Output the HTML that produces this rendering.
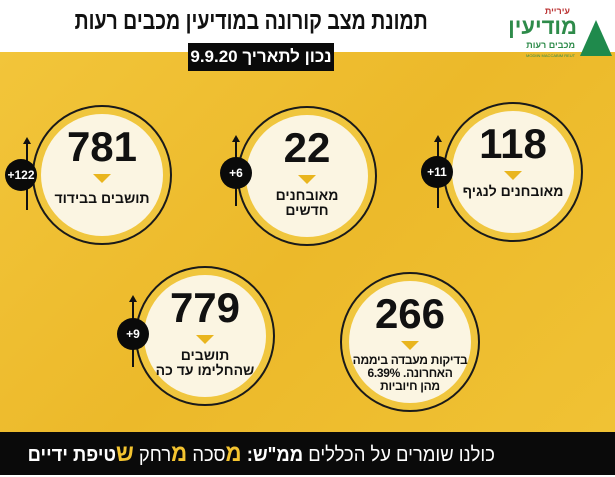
<!DOCTYPE html>
<html><head><meta charset="utf-8"><style>
*{margin:0;padding:0;box-sizing:border-box}
body{width:615px;height:475px;overflow:hidden;position:relative;background:#fff;font-family:"Liberation Sans","Noto Sans CJK SC",sans-serif}
.y{position:absolute;left:0;top:52px;width:615px;height:380px;background:linear-gradient(135deg,#f2c53a,#ecb92a 50%,#f0c234)}
.bar{position:absolute;left:0;top:432px;width:615px;height:43px;background:#0a0a0a}
.bt{position:absolute;right:120px;top:432px;height:43px;color:#fff;font-size:20px;direction:rtl;line-height:43px;white-space:nowrap;transform:scaleX(0.92);transform-origin:right center}
.bt b{color:#f4c430}
.t{position:absolute;right:187px;top:7px;font-size:25px;font-weight:bold;direction:rtl;color:#111;white-space:nowrap;transform:scaleX(0.78);transform-origin:right center}
.d{position:absolute;left:188px;top:43px;width:146px;height:28px;background:#0a0a0a;color:#fff;font-weight:bold;font-size:17px;text-align:center;line-height:28px;direction:rtl}
.c{position:absolute;width:140px;height:140px;border-radius:50%;border:2px solid #1a1a1a;background:#f0c63e}
.c .in{position:absolute;left:7px;top:7px;width:122px;height:122px;border-radius:50%;background:#fbf5e2;text-align:center;direction:rtl}
.n{font-size:42px;font-weight:bold;color:#111;margin-top:10px;line-height:46px;direction:ltr}
.tri{width:0;height:0;margin:4px auto 4px;border-left:9px solid transparent;border-right:9px solid transparent;border-top:9px solid #e9b51e}
.l{font-size:14px;font-weight:bold;color:#111;line-height:15px;white-space:nowrap}
.bd{position:absolute;width:32px;height:32px;border-radius:50%;background:#0a0a0a;color:#fff;font-size:12px;font-weight:bold;text-align:center;line-height:32px}
.ln{position:absolute;width:2px;background:#111}
.ar{position:absolute;width:0;height:0;border-left:4px solid transparent;border-right:4px solid transparent;border-bottom:7px solid #111}
.logo{position:absolute;font-weight:bold;color:#2e8b4a;direction:rtl;white-space:nowrap}
</style></head><body>
<div class="y"></div>
<div class="t">תמונת מצב קורונה במודיעין מכבים רעות</div>
<div class="d">נכון לתאריך 9.9.20</div>
<div class="logo" style="right:45px;top:6px;font-size:9px;color:#b33">עיריית</div>
<div class="logo" style="right:38px;top:14px;font-size:22px">מודיעין</div>
<div class="logo" style="right:40px;top:40px;font-size:9px">מכבים רעות</div>
<div style="position:absolute;left:526px;top:53px;font-size:4px;color:#2e8b4a;white-space:nowrap">MODIIN MACCABIM REUT</div>
<div style="position:absolute;left:580px;top:20px;width:0;height:0;border-left:16px solid transparent;border-right:16px solid transparent;border-bottom:36px solid #1f8a4c"></div>

<div class="c" style="left:32px;top:105px"><div class="in"><div class="n">781</div><div class="tri"></div><div class="l" style="margin-top:8px">תושבים בבידוד</div></div></div>
<div class="c" style="left:237px;top:106px"><div class="in"><div class="n">22</div><div class="tri"></div><div class="l">מאובחנים<br>חדשים</div></div></div>
<div class="c" style="left:443px;top:102px"><div class="in"><div class="n">118</div><div class="tri"></div><div class="l">מאובחנים לנגיף</div></div></div>
<div class="c" style="left:135px;top:266px"><div class="in"><div class="n">779</div><div class="tri"></div><div class="l">תושבים<br>שהחלימו עד כה</div></div></div>
<div class="c" style="left:340px;top:272px"><div class="in"><div class="n">266</div><div class="tri"></div><div class="l" style="font-size:12px;line-height:13px;letter-spacing:-0.3px">בדיקות מעבדה ביממה<br>האחרונה. 6.39%<br>מהן חיוביות</div></div></div>

<div class="ln" style="left:26px;top:142px;height:68px"></div><div class="ar" style="left:23px;top:137px"></div><div class="bd" style="left:5px;top:159px">+122</div>
<div class="ln" style="left:235px;top:140px;height:66px"></div><div class="ar" style="left:232px;top:135px"></div><div class="bd" style="left:220px;top:157px">+6</div>
<div class="ln" style="left:437px;top:140px;height:68px"></div><div class="ar" style="left:434px;top:135px"></div><div class="bd" style="left:421px;top:156px">+11</div>
<div class="ln" style="left:132px;top:300px;height:67px"></div><div class="ar" style="left:129px;top:295px"></div><div class="bd" style="left:117px;top:318px">+9</div>

<div class="bar"></div>
<div class="bt">כולנו שומרים על הכללים <span style="font-weight:bold">ממ"ש:</span> <b style="font-size:24px">מ</b>סכה <b style="font-size:24px">מ</b>רחק <b style="font-size:24px">ש</b><span style="font-weight:bold">טיפת ידיים</span></div>
</body></html>
